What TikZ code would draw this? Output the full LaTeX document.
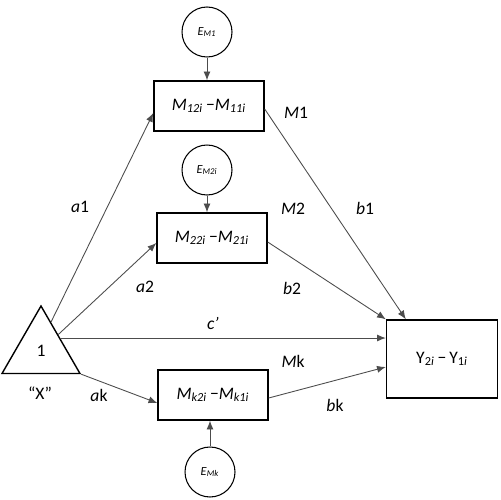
\documentclass[tikz,border=0pt]{standalone}
\usepackage{fontspec}
\setmainfont{Carlito}
\usetikzlibrary{shapes.geometric,arrows.meta,calc}
\begin{document}
\begin{tikzpicture}[x=0.02cm, y=-0.02cm,
	every node/.style={font=\fontsize{10}{12}\selectfont},
	box/.style={draw, line width=0.8pt, minimum width=22mm, minimum height=10mm, inner sep=0pt},
	ecirc/.style={draw, circle, line width=0.6pt, minimum size=10mm, inner sep=0pt, font=\fontsize{7}{8}\selectfont},
	arr/.style={draw=black!70, line width=0.5pt, -{Latex[length=5pt, width=4pt]}}]
	\useasboundingbox (0,0) rectangle (500,500);
	\def\mdiff#1#2{\textit{M}\textsubscript{\textit{#1}}\,−\textit{M}\textsubscript{\textit{#2}}}

	\node[box] (m1) at (209,106) {\mdiff{12i}{11i}};
	\node[box] (m2) at (212,238) {\mdiff{22i}{21i}};
	\node[box] (mk) at (213,395) {\mdiff{k2i}{k1i}};
	\node[box, minimum width=22.2mm, minimum height=15.6mm] (y) at (442,359) {Y\textsubscript{2\textit{i}}\,−\,Y\textsubscript{1\textit{i}}};
	\node[ecirc] (em1) at (207,32) {\textit{E}\textsubscript{\textit{M1}}};
	\node[ecirc] (em2) at (207,170) {\textit{E}\textsubscript{\textit{M2i}}};
	\node[ecirc] (emk) at (210,472) {\textit{E}\textsubscript{\textit{Mk}}};
	\node[draw, regular polygon, regular polygon sides=3, minimum size=18mm, inner sep=0pt, line width=0.8pt] (x) at (41,351) {1};

	\coordinate (xa1) at ($(x.corner 1)!0.25!(x.corner 3)$);
	\coordinate (xa2) at ($(x.corner 1)!0.43!(x.corner 3)$);
	\coordinate (xc) at ($(x.corner 1)!0.48!(x.corner 3)$);

	% paths out of X
	\draw[arr] (xa1) -- ($(m1.west)+(0,7)$);
	\draw[arr] (xa2) -- ($(m2.west)+(0,5)$);
	\draw[arr] (xc) -- (xc -| y.west);
	\draw[arr] (x.corner 3) -- ($(mk.west)+(0,8)$);
	% paths into Y
	\draw[arr] ($(m1.east)+(0,3)$) -- ($(y.north west)+(20,0)$);
	\draw[arr] ($(m2.east)+(0,4)$) -- (y.north west);
	\draw[arr] ($(mk.east)+(0,3)$) -- ($(y.west)+(0,8)$);
	% errors
	\draw[arr] (em1) -- (em1 |- m1.north);
	\draw[arr] (em2) -- (em2 |- m2.north);
	\draw[arr] (emk) -- (emk |- mk.south);

	\node (la1) at (80,207) {\textit{a}1};
	\node (la2) at (145,287) {\textit{a}2};
	\node (lak) at (99,395) {\textit{a}k};
	\node (lb1) at (365,208) {\textit{b}1};
	\node (lb2) at (292,288) {\textit{b}2};
	\node (lbk) at (335,405) {\textit{b}k};
	\node (lc) at (213,323) {\textit{c’}};
	\node (lm1) at (296,113) {\textit{M}1};
	\node (lm2) at (293,209) {\textit{M}2};
	\node (lmk) at (293,361) {\textit{M}k};
	\node (lx) at (40,393) {“X”};
\end{tikzpicture}
\end{document}
